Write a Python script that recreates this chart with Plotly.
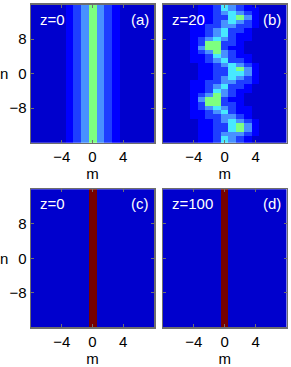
import plotly.graph_objects as go

# ---------------- data ----------------
m_vals = list(range(-8, 9))            # lattice index m (columns)
n_vals = list(range(16, -17, -1))      # lattice index n (rows, top to bottom)

# panel (a): intensity profile across m (same for every n)
a_profile = [0, 0, 0, 0, 0, 1, 2, 3, 5, 3, 2, 1, 0, 0, 0, 0, 0]

# panel (b): z=20 intensity map, rows n=16 ... -16, columns m=-8 ... 8
b_rows = [
    [0,0,0,0,0,1,1,2,4,3,2,1,0,0,0,0,0],
    [0,0,0,0,0,1,1,2,4,3,2,1,1,0,0,0,0],
    [0,0,0,0,0,1,1,2,3,4,3,2,1,0,0,0,0],
    [0,0,0,0,0,1,1,2,2,4,5,3,1,0,0,0,0],
    [0,0,0,0,0,1,1,2,3,4,3,2,1,0,0,0,0],
    [0,0,0,0,1,1,2,2,3,3,2,2,1,0,0,0,0],
    [0,0,0,0,1,1,2,3,4,2,2,1,0,0,0,0,0],
    [0,0,0,0,1,1,2,3,4,2,1,1,0,0,0,0,0],
    [0,0,0,0,1,2,3,4,3,2,1,1,0,0,0,0,0],
    [0,0,0,0,1,2,5,5,2,2,1,0,0,0,0,0,0],
    [0,0,0,0,1,3,5,5,2,1,1,0,0,0,0,0,0],
    [0,0,0,0,1,2,3,5,3,2,1,0,0,0,0,0,0],
    [0,0,0,0,1,1,2,4,3,2,1,1,0,0,0,0,0],
    [0,0,0,0,1,1,2,3,4,2,2,1,0,0,0,0,0],
    [0,0,0,0,0,1,1,2,3,4,3,2,1,0,0,0,0],
    [0,0,0,0,0,1,1,2,2,4,5,3,1,0,0,0,0],
    [0,0,0,0,0,1,1,2,2,4,4,3,1,0,0,0,0],
    [0,0,0,0,0,1,1,2,3,4,3,2,1,0,0,0,0],
    [0,0,0,0,1,1,2,2,3,3,2,2,1,0,0,0,0],
    [0,0,0,0,1,1,2,3,4,2,2,1,0,0,0,0,0],
    [0,0,0,0,1,1,2,4,3,2,1,1,0,0,0,0,0],
    [0,0,0,0,1,2,3,5,3,2,1,0,0,0,0,0,0],
    [0,0,0,0,1,3,5,5,2,1,1,0,0,0,0,0,0],
    [0,0,0,0,1,2,5,5,2,2,1,0,0,0,0,0,0],
    [0,0,0,0,1,2,3,4,3,2,1,1,0,0,0,0,0],
    [0,0,0,0,1,1,2,3,4,2,1,1,0,0,0,0,0],
    [0,0,0,0,1,1,2,2,3,3,2,1,0,0,0,0,0],
    [0,0,0,0,0,1,1,2,3,4,3,2,1,0,0,0,0],
    [0,0,0,0,0,1,1,2,2,4,5,3,1,0,0,0,0],
    [0,0,0,0,0,1,1,2,2,4,5,3,1,0,0,0,0],
    [0,0,0,0,0,1,1,2,3,3,3,2,1,0,0,0,0],
    [0,0,0,0,0,1,1,2,4,3,2,1,0,0,0,0,0],
    [0,0,0,0,0,1,1,2,4,3,2,1,0,0,0,0,0],
]

# panels (c), (d): single excited column at m=0
cd_profile = [0, 0, 0, 0, 0, 0, 0, 0, 10, 0, 0, 0, 0, 0, 0, 0, 0]

x_ticks = [-4, 0, 4]
x_ticktext = ["\u22124", "0", "4"]
y_ticks = [8, 0, -8]
y_ticktext = ["8", "0", "\u22128"]

z_labels = ["z=0", "z=20", "z=0", "z=100"]
panel_labels = ["(a)", "(b)", "(c)", "(d)"]

# ---------------- styling ----------------
colorscale = [
    [0.00, "rgb(0,0,205)"],
    [0.10, "rgb(0,0,255)"],
    [0.20, "rgb(30,62,255)"],
    [0.30, "rgb(72,145,255)"],
    [0.40, "rgb(72,232,255)"],
    [0.50, "rgb(125,255,128)"],
    [0.625, "rgb(255,255,0)"],
    [0.875, "rgb(255,0,0)"],
    [1.00, "rgb(118,0,0)"],
]

W, H = 291, 367
xdoms = [[31 / W, 154 / W], [163 / W, 286.5 / W]]
ydoms = [[1 - 142.7 / H, 1 - 4.7 / H], [1 - 327.3 / H, 1 - 189.3 / H]]

a_z = [a_profile[:] for _ in n_vals]
cd_z = [cd_profile[:] for _ in n_vals]
panels = [a_z, b_rows, cd_z, cd_z]

FONT = "Liberation Sans, Arial, sans-serif"

fig = go.Figure()
layout = dict(
    width=W, height=H,
    margin=dict(l=0, r=0, t=0, b=0),
    paper_bgcolor="white", plot_bgcolor="white",
    showlegend=False,
    font=dict(family=FONT, size=15, color="black"),
    annotations=[],
)

for i in range(4):
    row, col = divmod(i, 2)
    xa = "x" if i == 0 else f"x{i+1}"
    ya = "y" if i == 0 else f"y{i+1}"
    fig.add_trace(go.Heatmap(
        z=panels[i], x=m_vals, y=n_vals,
        colorscale=colorscale, zmin=0, zmax=10, showscale=False,
        xaxis=xa, yaxis=ya, zsmooth=False, hoverinfo="skip",
    ))
    xkey = "xaxis" if i == 0 else f"xaxis{i+1}"
    ykey = "yaxis" if i == 0 else f"yaxis{i+1}"
    layout[xkey] = dict(
        domain=xdoms[col], anchor=ya, range=[-8, 8],
        tickvals=x_ticks, ticktext=x_ticktext,
        ticks="inside", ticklen=3, tickcolor="#707070",
        showline=True, linecolor="#6e6e6e", linewidth=1.5, mirror="ticks",
        showgrid=False, zeroline=False,
        tickfont=dict(family=FONT, size=15, color="black"),
        title=dict(text="m", font=dict(family=FONT, size=15), standoff=0),
    )
    layout[ykey] = dict(
        domain=ydoms[row], anchor=xa, range=[-16, 16],
        tickvals=y_ticks,
        ticktext=y_ticktext if col == 0 else ["", "", ""],
        ticks="inside", ticklen=3, tickcolor="#707070",
        showline=True, linecolor="#6e6e6e", linewidth=1.5, mirror="ticks",
        showgrid=False, zeroline=False,
        tickfont=dict(family=FONT, size=15, color="black"),
    )
    if col == 0:
        layout["annotations"].append(dict(
            text="n", xref="paper", yref=ya, x=4 / W, y=0,
            xanchor="center", yanchor="middle", showarrow=False,
            font=dict(family=FONT, size=15, color="black"),
        ))
    layout["annotations"].append(dict(
        text=z_labels[i], xref=xa, yref=ya, x=-7.1, y=12.6,
        xanchor="left", yanchor="middle", showarrow=False,
        font=dict(family=FONT, size=15, color="white"),
    ))
    layout["annotations"].append(dict(
        text=panel_labels[i], xref=xa, yref=ya, x=7.6, y=12.6,
        xanchor="right", yanchor="middle", showarrow=False,
        font=dict(family=FONT, size=15, color="white"),
    ))

fig.update_layout(**layout)
fig.write_html(
    "out.html",
    config={"displayModeBar": False, "staticPlot": True},
    post_script="document.body.style.margin='0';document.body.style.padding='0';",
)
